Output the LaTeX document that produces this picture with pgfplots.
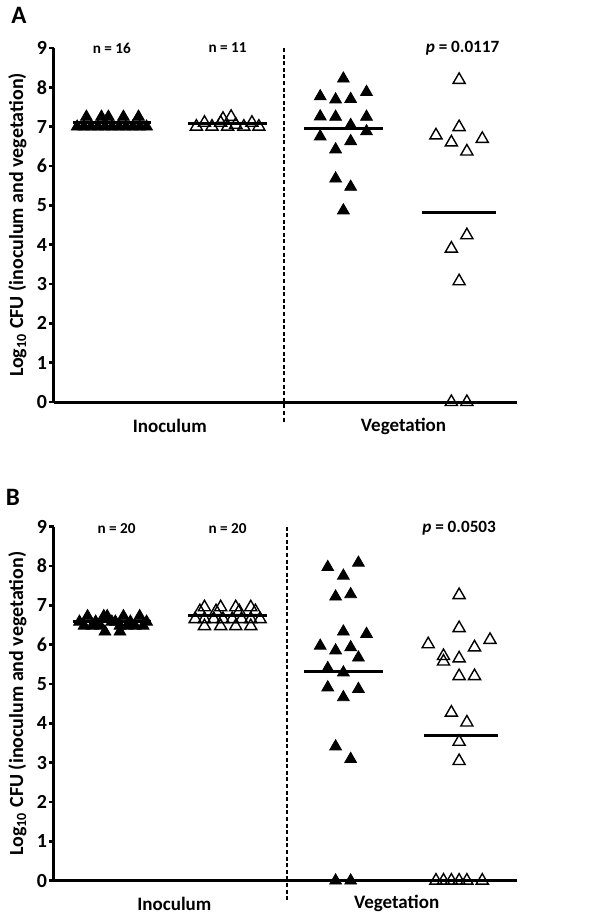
\documentclass[border=0pt]{standalone}
\usepackage{pgfplots}
\pgfplotsset{compat=1.18}
\usepackage{fontspec}
\setmainfont{Carlito}

\pgfplotsset{
 panel/.style={
  scale only axis, width=231.5pt, height=177pt,
  xmin=0.5, xmax=4.5, ymin=0, ymax=9,
  axis x line=bottom, axis y line=left,
  axis line style={-, line width=1.5pt},
  xtick=\empty, ytick={0,1,2,3,4,5,6,7,8,9},
  yticklabels={0,1,2,3,4,5,6,7,8,9},
  tick align=outside, major tick length=2.5pt,
  tick style={line width=1.3pt, black},
  yticklabel style={font=\bfseries\fontsize{10}{11}\selectfont, inner sep=0.8pt},
  ylabel={Log\textsubscript{10} CFU (inoculum and vegetation)},
  ylabel style={font=\bfseries\fontsize{10}{11}\selectfont, at={(axis description cs:-0.079,0.5)}, anchor=center},
  clip=false,
 },
 filled/.style={only marks, mark=triangle*, mark size=3.4pt, black},
 open/.style={only marks, mark=triangle, mark size=3.5pt, black, mark options={line width=0.7pt}},
 med/.style={no marks, black, line width=1.5pt},
}

\pgfplotstableread{
x y
0.78 7.25
0.91 7.25
0.97 7.25
1.10 7.25
1.23 7.25
0.70 7.0
0.76 7.0
0.82 7.0
0.88 7.0
0.94 7.0
1.00 7.0
1.06 7.0
1.12 7.0
1.18 7.0
1.24 7.0
1.30 7.0
}\AinocF

\pgfplotstableread{
x y
1.73 7.0
1.865 7.0
2.00 7.0
2.14 7.0
2.27 7.0
1.80 7.1
1.94 7.1
1.96 7.2
2.03 7.25
2.07 7.05
2.21 7.1
}\AinocO

\pgfplotstableread{
x y
3.0 8.22
2.8 7.77
2.933 7.69
3.063 7.70
3.2 7.88
2.8 7.26
2.933 7.25
3.2 7.25
3.063 7.04
2.8 6.75
3.2 6.88
3.063 6.63
2.933 6.42
2.933 5.68
3.063 5.47
3.0 4.87
}\AvegF

\pgfplotstableread{
x y
4.0 8.19
4.0 6.99
3.8 6.78
3.933 6.60
4.2 6.69
4.067 6.37
4.067 4.24
3.933 3.90
4.0 3.07
3.933 0
4.067 0
}\AvegO

\pgfplotstableread{
x y
0.79 6.72
0.93 6.72
0.96 6.72
1.10 6.72
1.24 6.72
0.72 6.58
0.86 6.58
1.00 6.58
1.03 6.58
1.16 6.58
1.30 6.58
0.76 6.48
0.83 6.48
0.90 6.48
1.07 6.48
1.13 6.48
1.20 6.48
1.27 6.48
0.94 6.33
1.07 6.33
}\BinocF

\pgfplotstableread{
x y
1.80 6.95
1.94 6.95
2.07 6.95
2.20 6.95
1.76 6.85
1.90 6.85
2.10 6.85
2.24 6.85
1.72 6.65
1.80 6.65
1.88 6.65
1.96 6.65
2.04 6.65
2.12 6.65
2.20 6.65
2.28 6.65
1.80 6.47
1.94 6.47
2.07 6.47
2.20 6.47
}\BinocO

\pgfplotstableread{
x y
2.865 7.97
3.13 8.08
3.0 7.75
2.933 7.22
3.063 7.28
3.0 6.33
3.2 6.27
2.8 5.97
2.933 5.85
3.063 5.93
3.13 5.67
2.865 5.40
3.0 5.29
2.865 4.91
3.13 4.87
3.0 4.66
2.933 3.41
3.063 3.09
2.933 0
3.063 0
}\BvegF

\pgfplotstableread{
x y
4.0 7.26
4.0 6.42
3.733 6.01
4.267 6.12
4.133 5.93
3.865 5.71
3.865 5.57
4.0 5.65
4.0 5.20
4.133 5.20
3.933 4.27
4.067 4.02
4.0 3.53
4.0 3.04
3.8 0
3.865 0
3.933 0
4.0 0
4.067 0
4.2 0
}\BvegO

\begin{document}
\begin{tikzpicture}
% Panel A
\begin{axis}[panel, at={(27pt,-201pt)}, anchor=south west]
\addplot[med] coordinates {(0.66,7.10) (1.34,7.10)};
\addplot[med] coordinates {(1.66,7.08) (2.34,7.08)};
\addplot[med] coordinates {(2.66,6.95) (3.34,6.95)};
\addplot[med] coordinates {(3.68,4.82) (4.32,4.82)};
\addplot[filled] table {\AinocF};
\addplot[open] table {\AinocO};
\addplot[filled] table {\AvegF};
\addplot[open] table {\AvegO};
\draw[line width=1pt, dash pattern=on 2pt off 1.3pt] (axis cs:2.49,9) -- ([yshift=-10pt]axis cs:2.49,0);
\node[font=\bfseries\fontsize{7.6}{10}\selectfont] at (axis cs:1,9) {n = 16};
\node[font=\bfseries\fontsize{7.6}{10}\selectfont] at (axis cs:2,9) {n = 11};
\node[font=\bfseries\fontsize{8.6}{10}\selectfont] at (axis cs:4.03,9) {\textit{p} = 0.0117};
\node[font=\bfseries\fontsize{9.5}{12}\selectfont] at ([yshift=-12pt]axis cs:1.5,0) {Inoculum};
\node[font=\bfseries\fontsize{9.5}{12}\selectfont] at ([yshift=-12pt]axis cs:3.52,0) {Vegetation};
\end{axis}
% Panel B
\begin{axis}[panel, at={(27pt,-440.3pt)}, anchor=south west]
\addplot[med] coordinates {(0.66,6.60) (1.34,6.60)};
\addplot[med] coordinates {(1.66,6.73) (2.34,6.73)};
\addplot[med] coordinates {(2.66,5.31) (3.34,5.31)};
\addplot[med] coordinates {(3.70,3.70) (4.34,3.70)};
\addplot[filled] table {\BinocF};
\addplot[open] table {\BinocO};
\addplot[filled] table {\BvegF};
\addplot[open] table {\BvegO};
\draw[line width=1pt, dash pattern=on 2pt off 1.3pt] (axis cs:2.51,9) -- ([yshift=-10pt]axis cs:2.51,0);
\node[font=\bfseries\fontsize{7.6}{10}\selectfont] at (axis cs:1.04,8.95) {n = 20};
\node[font=\bfseries\fontsize{7.6}{10}\selectfont] at (axis cs:2,8.95) {n = 20};
\node[font=\bfseries\fontsize{8.6}{10}\selectfont] at (axis cs:4.0,8.95) {\textit{p} = 0.0503};
\node[font=\bfseries\fontsize{9.5}{12}\selectfont] at ([yshift=-11.5pt]axis cs:1.54,0) {Inoculum};
\node[font=\bfseries\fontsize{9.5}{12}\selectfont] at ([yshift=-11.5pt]axis cs:3.46,0) {Vegetation};
\end{axis}
\node[font=\bfseries\fontsize{12.5}{14}\selectfont] at (9.5pt,-7.5pt) {A};
\node[font=\bfseries\fontsize{12.5}{14}\selectfont] at (6.5pt,-248.5pt) {B};
\pgfresetboundingbox
\path (0,0) rectangle (301pt,-460pt);
\end{tikzpicture}
\end{document}
